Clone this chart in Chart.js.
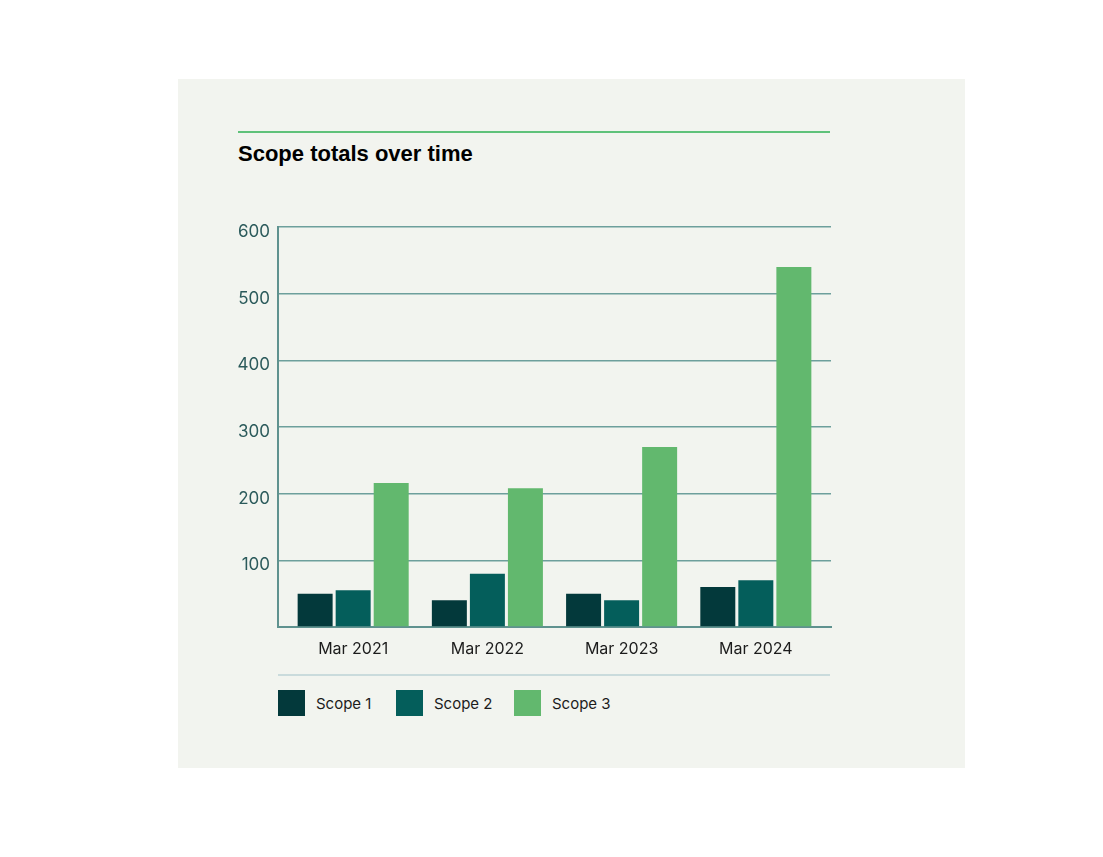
<!DOCTYPE html>
<html>
<head>
<meta charset="utf-8">
<script src="https://cdn.jsdelivr.net/npm/chart.js@4/dist/chart.umd.min.js"></script>
<style>
body { margin: 0; background: #fff; width: 1103px; height: 857px; position: relative; font-family: Inter, sans-serif; overflow: hidden; }
#panel { position: absolute; left: 178px; top: 79px; width: 787px; height: 689px; background: #f2f4ef; }
#rule { position: absolute; left: 238px; top: 131px; width: 592px; height: 2px; background: #5fc27a; }
h2 { position: absolute; left: 238px; top: 141px; margin: 0; font: bold 22px "Liberation Sans", Arial, sans-serif; color: #000; }
#wrap { position: absolute; left: 201px; top: 200px; width: 660px; height: 460px; }
#sep { position: absolute; left: 278px; top: 674px; width: 552px; height: 2px; background: #cadbdc; }
#legend { position: absolute; left: 278px; top: 690px; display: flex; align-items: center; font-size: 15px; color: #1c1c1c; }
#legend .item { display: flex; align-items: center; width: 118px; }
#legend .box { width: 27px; height: 26px; margin-right: 11px; }
</style>
</head>
<body>
<div id="panel"></div>
<div id="rule"></div>
<h2>Scope totals over time</h2>
<div id="wrap"><canvas id="chart" width="660" height="460"></canvas></div>
<div id="sep"></div>
<div id="legend"></div>
<script>
const labels = ["Mar 2021", "Mar 2022", "Mar 2023", "Mar 2024"];
const scope1 = [50, 40, 50, 60];
const scope2 = [55, 80, 40, 70];
const scope3 = [216, 208, 270, 540];
const seriesNames = ["Scope 1", "Scope 2", "Scope 3"];
const colors = ["#03393b", "#045e5b", "#62b86e"];

const gridColor = "#6d9f9c";
const PAD = 0.06; // a bit of room either side of the groups

const datasets = [scope1, scope2, scope3].map((d, i) => ({
    label: seriesNames[i],
    data: d,
    backgroundColor: colors[i],
    borderWidth: 0,
    categoryPercentage: 0.85,
    barPercentage: 0.92
}));

new Chart("chart", {
    type: "bar",
    data: { labels: labels, datasets: datasets },
    options: {
        responsive: false,
        animation: false,
        devicePixelRatio: 1,
        layout: { padding: { top: 27, right: 30, bottom: 0, left: 0 } },
        plugins: { legend: { display: false }, tooltip: { enabled: false } },
        scales: {
            x: {
                grid: { display: false, drawTicks: false },
                border: { color: "#5f928f", width: 2 },
                ticks: { color: "#1c1c1c", font: { family: "Inter", size: 16 }, padding: 13 },
                afterBuildTicks: s => { s._startValue -= PAD; s._valueRange += 2 * PAD; },
                afterFit: s => { s.height = 33; }
            },
            y: {
                min: 0,
                max: 600,
                grid: { color: gridColor, lineWidth: 1.5, drawTicks: false },
                border: { color: "#5f928f", width: 2 },
                ticks: {
                    stepSize: 100,
                    padding: 8,
                    labelOffset: 5,
                    color: "#2b5a5b",
                    font: { family: "Inter", size: 17 },
                    callback: v => v === 0 ? "" : v
                },
                afterFit: s => { s.width = 77; }
            }
        }
    }
});

const legend = document.getElementById("legend");
seriesNames.forEach((name, i) => {
    const item = document.createElement("div");
    item.className = "item";
    item.innerHTML = `<span class="box" style="background:${colors[i]}"></span><span>${name}</span>`;
    legend.appendChild(item);
});
</script>
</body>
</html>
